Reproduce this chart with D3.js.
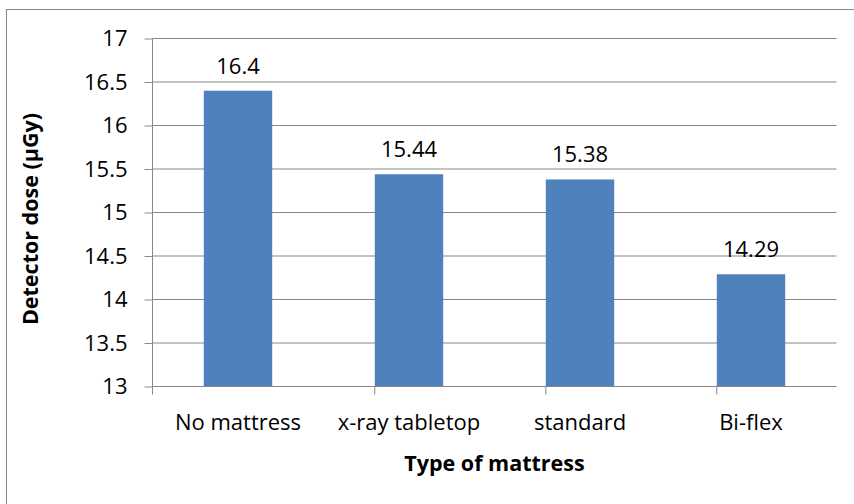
<!DOCTYPE html>
<html>
<head>
<meta charset="utf-8">
<script src="https://cdn.jsdelivr.net/npm/d3@7"></script>
<style>
  html, body { margin: 0; padding: 0; background: #fff; }
  svg { display: block; font-family: "Open Sans", "Liberation Sans", sans-serif; }
</style>
</head>
<body>
<svg id="chart" width="854" height="504"></svg>
<script>
const categories = ["No mattress", "x-ray tabletop", "standard", "Bi-flex"];
const doses = [16.4, 15.44, 15.38, 14.29];
const doseLabels = ["16.4", "15.44", "15.38", "14.29"];
const yTicks = [13, 13.5, 14, 14.5, 15, 15.5, 16, 16.5, 17];

const svg = d3.select("#chart");
const margin = { left: 152.5, right: 17.5, top: 38.5, bottom: 117.5 };
const W = 854, H = 504;
const FS = 22;

// outer chart frame
svg.append("rect")
  .attr("x", 6.5).attr("y", 9.5)
  .attr("width", 900).attr("height", 600)
  .attr("fill", "none").attr("stroke", "#888").attr("stroke-width", 1);

const x = d3.scaleBand()
  .domain(categories)
  .range([margin.left, W - margin.right])
  .paddingInner(0.6).paddingOuter(0.3);

const y = d3.scaleLinear()
  .domain([13, 17])
  .range([H - margin.bottom, margin.top]);

// horizontal gridlines
svg.append("g")
  .selectAll("line")
  .data(yTicks.slice(1))
  .join("line")
  .attr("x1", margin.left).attr("x2", W - margin.right)
  .attr("y1", d => y(d)).attr("y2", d => y(d))
  .attr("stroke", "#888").attr("stroke-width", 1);

// bars
svg.append("g")
  .selectAll("rect")
  .data(categories)
  .join("rect")
  .attr("x", d => x(d))
  .attr("width", x.bandwidth())
  .attr("y", (d, i) => y(doses[i]))
  .attr("height", (d, i) => y(13) - y(doses[i]))
  .attr("fill", "#4f81bd");

// value labels
svg.append("g")
  .selectAll("text")
  .data(categories)
  .join("text")
  .attr("x", d => x(d) + x.bandwidth() / 2)
  .attr("y", (d, i) => y(doses[i]) - 17)
  .attr("text-anchor", "middle")
  .attr("font-size", FS)
  .attr("fill", "#000")
  .text((d, i) => doseLabels[i]);

// y axis
const yAxis = svg.append("g")
  .attr("transform", `translate(${margin.left},0)`)
  .call(d3.axisLeft(y).tickValues(yTicks).tickSize(8).tickPadding(17)
    .tickFormat(d => String(d)));
yAxis.select(".domain").attr("stroke", "#888").attr("d", `M0,${y(13)}V${y(17)}`);
yAxis.selectAll(".tick line").attr("stroke", "#888");
yAxis.selectAll(".tick text").attr("font-size", FS).attr("fill", "#000")
  .attr("font-family", "Open Sans, Liberation Sans, sans-serif");

// x axis with ticks at category boundaries
const bounds = [margin.left].concat(categories.map(c => x(c) + x.step() * 0.3 + x.bandwidth() + x.step() * 0.3));
const xAxisG = svg.append("g").attr("transform", `translate(0,${y(13)})`);
xAxisG.append("line")
  .attr("x1", margin.left).attr("x2", W - margin.right)
  .attr("stroke", "#888");
xAxisG.selectAll("line.tk")
  .data(bounds)
  .join("line").attr("class", "tk")
  .attr("x1", d => d).attr("x2", d => d)
  .attr("y1", 0).attr("y2", 8)
  .attr("stroke", "#888");
xAxisG.selectAll("text")
  .data(categories)
  .join("text")
  .attr("x", d => x(d) + x.bandwidth() / 2)
  .attr("y", 43)
  .attr("text-anchor", "middle")
  .attr("font-size", FS)
  .attr("fill", "#000")
  .text(d => d);

// axis titles
svg.append("text")
  .attr("x", (margin.left + W - margin.right) / 2)
  .attr("y", 471)
  .attr("text-anchor", "middle")
  .attr("font-size", 21.5).attr("font-weight", "bold")
  .text("Type of mattress");

svg.append("text")
  .attr("transform", `translate(38,219) rotate(-90)`)
  .attr("text-anchor", "middle")
  .attr("font-size", 21.5).attr("font-weight", "bold")
  .text("Detector dose (µGy)");
</script>
</body>
</html>
